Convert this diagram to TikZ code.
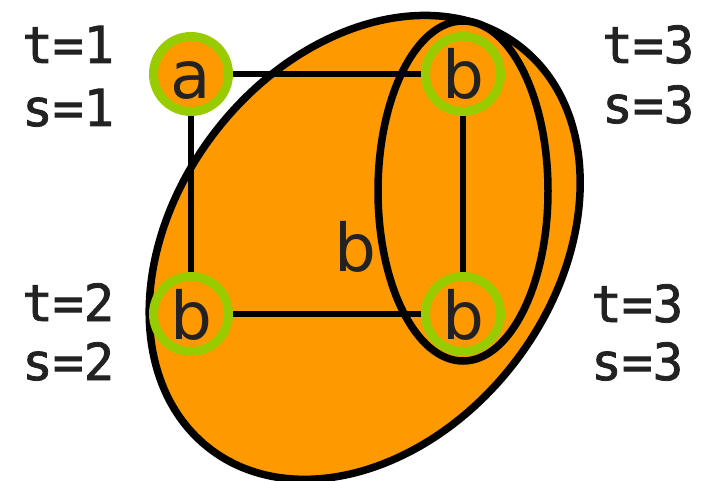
\documentclass[tikz,border=0pt]{standalone}
\usepackage{fontspec}
\setmainfont{DejaVu Sans}
\newfontfamily\labfont[FakeBold=1.5]{DejaVu Sans Mono}
\definecolor{setorange}{HTML}{FF9900}
\definecolor{ringgreen}{HTML}{99CC00}
\definecolor{ink}{HTML}{222222}
\begin{document}
\begin{tikzpicture}[x=1pt,y=1pt,
  setline/.style={draw=black,line width=7.5pt,fill=setorange},
  edgeline/.style={draw=black,line width=6pt},
  vert/.style={circle,draw=ringgreen,line width=9pt,fill=setorange,minimum size=75pt,inner sep=0pt,
    font=\fontsize{66}{66}\selectfont,text=ink,text height=50pt,text depth=0pt},
  lab/.style={anchor=base west,font=\labfont\fontsize{51}{51}\selectfont,text=ink,inner sep=0pt}]
\useasboundingbox (0,0) rectangle (707,-481);
% big set ellipse
\draw[setline,rotate around={52.4:(364.7,-247.4)}] (364.7,-247.4) ellipse [x radius=254pt,y radius=189pt];
% small set ellipse
\draw[setline] (463,-191) ellipse [x radius=85pt,y radius=170pt];
% vertices
\node[vert] (a) at (191,-74) {a};
\node[vert] (b1) at (463,-74) {b};
\node[vert] (b2) at (191,-314) {b};
\node[vert] (b3) at (463,-314) {b};
% edges
\draw[edgeline] (a) -- (b1);
\draw[edgeline] (a) -- (b2);
\draw[edgeline] (b2) -- (b3);
\draw[edgeline] (b1) -- (b3);
% set label
\node[font=\fontsize{66}{66}\selectfont,text=ink,anchor=base,inner sep=0pt] (setlab) at (355,-272) {b};
% labels
\node[lab] (t1) at (22,-63) {t=1};
\node[lab] (s1) at (22,-126) {s=1};
\node[lab] (t2) at (22,-321) {t=2};
\node[lab] (s2) at (22,-380) {s=2};
\node[lab] (t3) at (602,-63) {t=3};
\node[lab] (s3) at (602,-123) {s=3};
\node[lab] (t4) at (591,-322) {t=3};
\node[lab] (s4) at (591,-380) {s=3};
\end{tikzpicture}
\end{document}
